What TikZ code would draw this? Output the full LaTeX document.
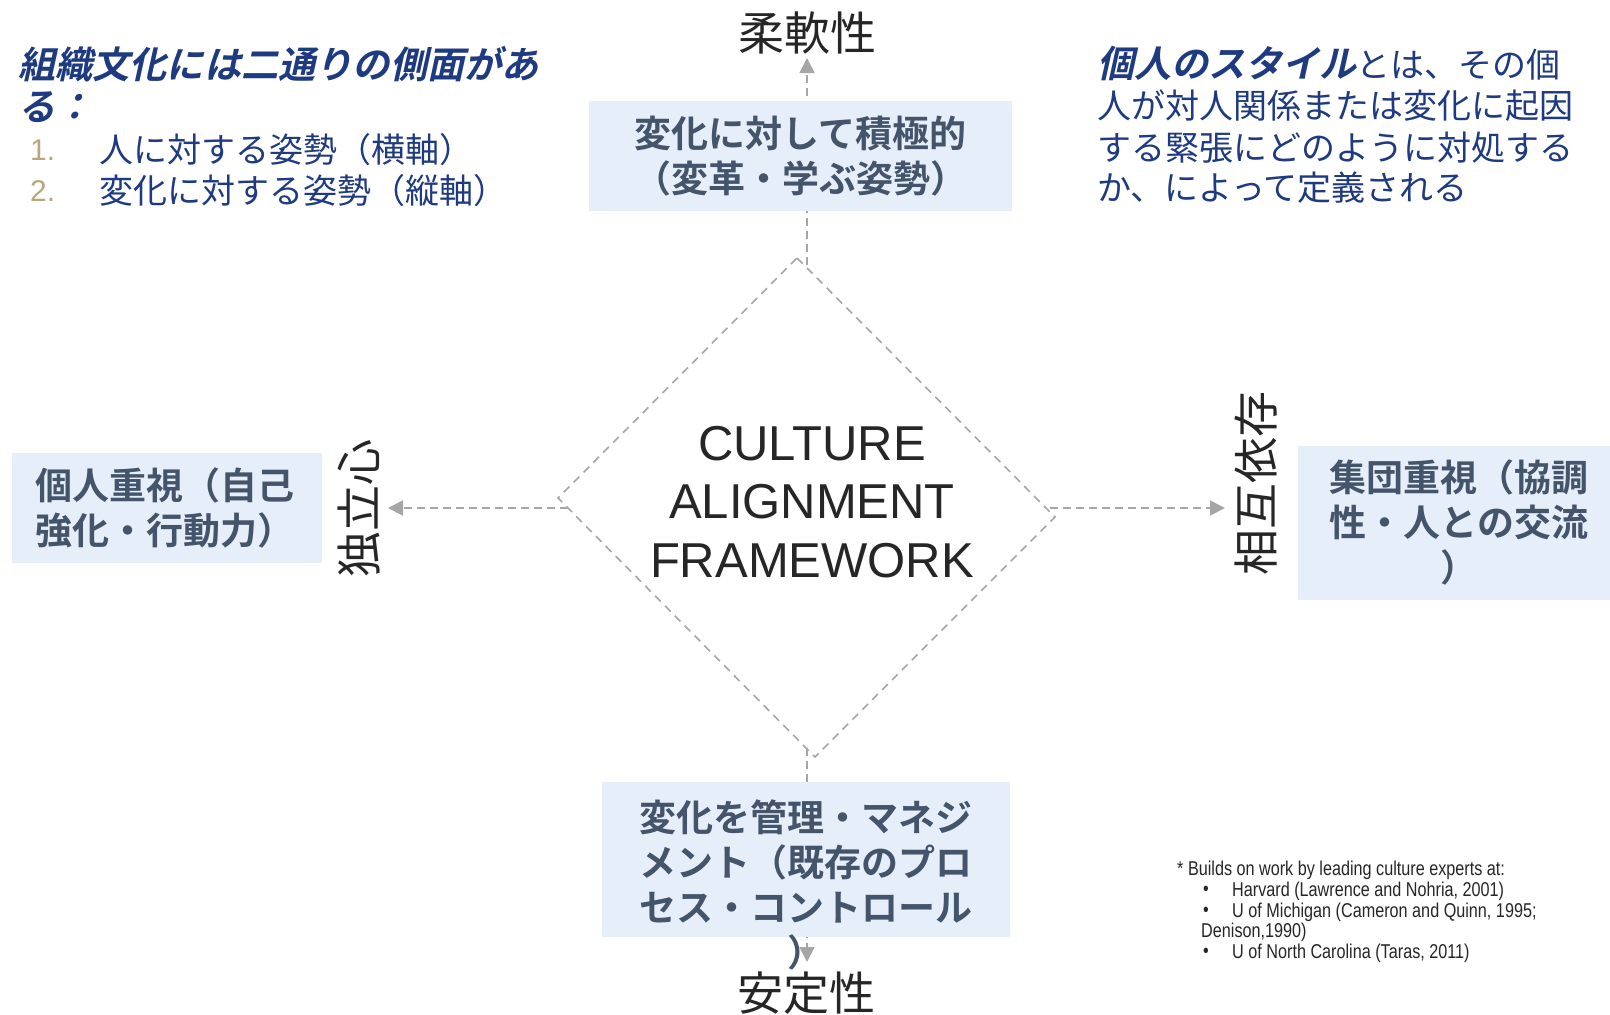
\documentclass[tikz,border=0pt]{standalone}
\usepackage{fontspec}
\usetikzlibrary{arrows.meta}
\newfontfamily\jp{Noto Sans CJK JP}
\newfontfamily\jpb{Noto Sans CJK JP Bold}
\newfontfamily\jpbi[FakeSlant=0.22]{Noto Sans CJK JP Bold}
\newfontfamily\lat{Liberation Sans}
\newfontfamily\narrow[FakeStretch=0.81]{Liberation Sans}
\definecolor{navy}{HTML}{1E3A80}
\definecolor{gold}{HTML}{B9A77C}
\definecolor{slate}{HTML}{44546A}
\definecolor{boxfill}{HTML}{E6EEF9}
\definecolor{axisgray}{HTML}{A6A6A6}
\definecolor{ink}{HTML}{262626}
\tikzset{
  axisarrow/.style={draw=axisgray, line width=1.8pt, dash pattern=on 8pt off 5pt,
    -{Triangle[length=15pt,width=15pt,fill=axisgray]}},
  diamondline/.style={draw=axisgray, line width=1.6pt, dash pattern=on 8pt off 6pt},
  boxst/.style={fill=boxfill, inner sep=0pt},
  boxtext/.style={text=slate, font=\jpb\fontsize{37}{45}\selectfont, inner sep=0pt},
  axlabel/.style={text=ink, font=\jp\fontsize{46}{46}\selectfont, inner sep=0pt},
  headbi/.style={text=navy, font=\jpbi\fontsize{37.2}{43}\selectfont, inner sep=0pt, anchor=west},
  bodytext/.style={text=navy, font=\jp\fontsize{34}{41}\selectfont, inner sep=0pt, anchor=west},
  listtext/.style={text=navy, font=\jp\fontsize{34}{40}\selectfont, inner sep=0pt, anchor=west},
  listnum/.style={text=gold, font=\lat\fontsize{30}{36}\selectfont, inner sep=0pt, anchor=west},
  foot/.style={text=ink, font=\narrow\fontsize{20}{20.5}\selectfont, inner sep=0pt, anchor=west},
}
\begin{document}
\begin{tikzpicture}[x=1pt,y=-1pt]
\useasboundingbox[fill=white] (0,0) rectangle (1610,1015);

% axis coordinates
\coordinate (aTs) at (807,265);
\coordinate (aTe) at (807,58);
\coordinate (aBs) at (807,748);
\coordinate (aBe) at (807,962);
\coordinate (aLs) at (568,508);
\coordinate (aLe) at (388,508);
\coordinate (aRs) at (1050,508);
\coordinate (aRe) at (1225,508);
\draw[axisarrow] (aTs) -- (aTe);
\draw[axisarrow] (aBs) -- (aBe);
\draw[axisarrow] (aLs) -- (aLe);
\draw[axisarrow] (aRs) -- (aRe);

% diamond
\coordinate (dT) at (797,258);
\coordinate (dR) at (1055,517);
\coordinate (dB) at (815,757);
\coordinate (dL) at (558,498);
\draw[diamondline] (dT) -- (dR) -- (dB) -- (dL) -- cycle;

% boxes
\node[boxst, minimum width=423pt, minimum height=110pt] (topbox) at (800.5,156) {};
\node[boxtext, align=center] (toptxt) at (800.5,156) {変化に対して積極的\\（変革・学ぶ姿勢）};

\node[boxst, minimum width=408pt, minimum height=155pt] (botbox) at (806,859.5) {};
\node[boxtext, align=center] (bottxt) at (806,885) {変化を管理・マネジ\\メント（既存のプロ\\セス・コントロール\\）};

\node[boxst, minimum width=310pt, minimum height=110pt] (leftbox) at (167,508) {};
\node[boxtext, align=left] (lefttxt) at (165,508) {個人重視（自己\\強化・行動力）};

\node[boxst, minimum width=312pt, minimum height=154pt] (rightbox) at (1454,523) {};
\node[boxtext, align=center] (righttxt) at (1459,522) {集団重視（協調\\性・人との交流\\）};

% axis labels
\node[axlabel] (flex) at (807,33) {柔軟性};
\node[axlabel] (stab) at (806,993) {安定性};
\node[axlabel, rotate=90] (indep) at (359,508) {独立心};
\node[axlabel, rotate=90] (inter) at (1256,483) {相互依存};

% centre title
\node[text=ink, font=\lat\fontsize{49}{58.5}\selectfont, align=center, inner sep=0pt] (caf) at (812,502) {CULTURE\\ALIGNMENT\\FRAMEWORK};

% top-left
\node[headbi] (head1) at (18,64) {組織文化には二通りの側面があ};
\node[headbi] (head2) at (18,107) {る：};
\node[listnum] (n1) at (30,150) {1.};
\node[listtext] (l1) at (99,150) {人に対する姿勢（横軸）};
\node[listnum] (n2) at (30,191) {2.};
\node[listtext] (l2) at (99,191) {変化に対する姿勢（縦軸）};

% top-right
\node[bodytext] (r1) at (1097,64) {{\jpbi\fontsize{37}{41}\selectfont 個人のスタイル}とは、その個};
\node[bodytext] (r2) at (1097,106) {人が対人関係または変化に起因};
\node[bodytext] (r3) at (1097,148) {する緊張にどのように対処する};
\node[bodytext] (r4) at (1097,188) {か、によって定義される};

% footnote
\node[foot] (f0) at (1177,870) {* Builds on work by leading culture experts at:};
\node[foot] (b1) at (1203,891) {•};
\node[foot] (f1) at (1232,891) {Harvard (Lawrence and Nohria, 2001)};
\node[foot] (b2) at (1203,912) {•};
\node[foot] (f2) at (1232,912) {U of Michigan (Cameron and Quinn, 1995;};
\node[foot] (f3) at (1201,932) {Denison,1990)};
\node[foot] (b3) at (1203,953) {•};
\node[foot] (f4) at (1232,953) {U of North Carolina (Taras, 2011)};
\end{tikzpicture}
\end{document}
